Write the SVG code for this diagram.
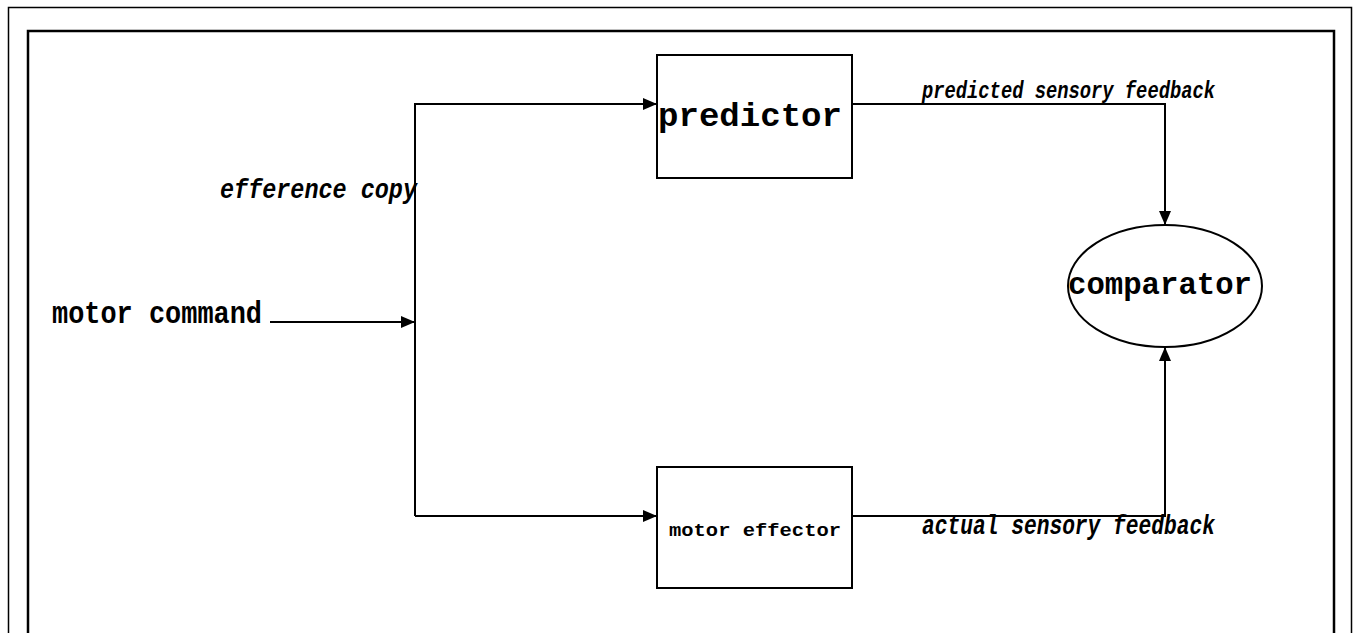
<svg xmlns="http://www.w3.org/2000/svg" width="1354" height="633" viewBox="0 0 1354 633">
<style>
.frame{fill:none;stroke:#000}
.box{fill:#fff;stroke:#000;stroke-width:2}
.line{fill:none;stroke:#000;stroke-width:2}
.mono{font-family:"Liberation Mono","Courier New",monospace;fill:#000}
.lbl{font-family:"Liberation Mono","Courier New",monospace;font-style:italic;font-weight:bold;fill:#000}
</style>
<defs>
<marker id="ah" markerWidth="14" markerHeight="12" refX="13" refY="6" orient="auto" markerUnits="userSpaceOnUse">
<path d="M0,0 L14,6 L0,12 Z" fill="#000"/>
</marker>
</defs>
<rect width="1354" height="633" fill="#fff"/>
<rect class="frame" x="8.5" y="7.5" width="1343" height="640" stroke-width="1.5"/>
<rect class="frame" x="28" y="31" width="1306" height="620" stroke-width="2.5"/>
<g id="connectors">
<line class="line" x1="270" y1="322" x2="414" y2="322" marker-end="url(#ah)"/>
<polyline class="line" points="415,516 415,104 656,104" marker-end="url(#ah)"/>
<polyline class="line" points="415,516 656,516" marker-end="url(#ah)"/>
<polyline class="line" points="852,104 1165,104 1165,224" marker-end="url(#ah)"/>
<polyline class="line" points="852,516 1165,516 1165,348" marker-end="url(#ah)"/>
</g>
<g id="motor-command">
<text class="mono" x="52" y="323" font-size="31" font-weight="bold" textLength="210" lengthAdjust="spacingAndGlyphs">motor command</text>
</g>
<g id="efference-copy">
<text class="lbl" x="220" y="198" font-size="27" textLength="197" lengthAdjust="spacingAndGlyphs">efference copy</text>
</g>
<g id="predictor">
<rect class="box" x="657" y="55" width="195" height="123"/>
<text class="mono" x="658" y="126" font-size="33" font-weight="bold" textLength="184" lengthAdjust="spacingAndGlyphs">predictor</text>
</g>
<g id="motor-effector">
<rect class="box" x="657" y="467" width="195" height="121"/>
<text class="mono" x="669" y="536" font-size="19" font-weight="bold" textLength="172" lengthAdjust="spacingAndGlyphs">motor effector</text>
</g>
<g id="comparator">
<ellipse class="box" cx="1165" cy="286" rx="97" ry="61"/>
<text class="mono" x="1068" y="294" font-size="31" font-weight="bold" textLength="184" lengthAdjust="spacingAndGlyphs">comparator</text>
</g>
<g id="predicted-label">
<text class="lbl" x="922" y="98" font-size="23" textLength="293" lengthAdjust="spacingAndGlyphs">predicted sensory feedback</text>
</g>
<g id="actual-label">
<text class="lbl" x="922" y="534" font-size="27" textLength="293" lengthAdjust="spacingAndGlyphs">actual sensory feedback</text>
</g>
</svg>
